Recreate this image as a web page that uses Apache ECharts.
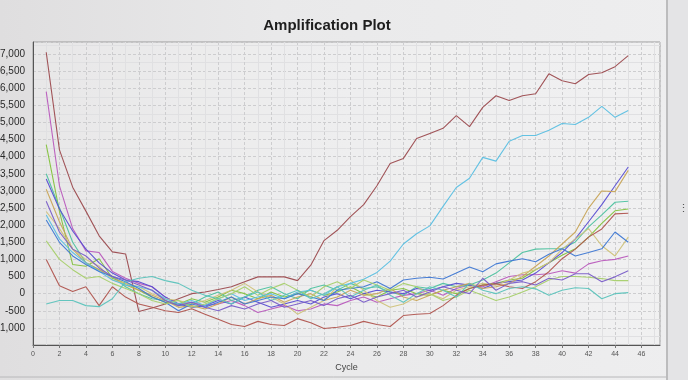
<!DOCTYPE html>
<html>
<head>
<meta charset="utf-8">
<script src="https://cdn.jsdelivr.net/npm/echarts@6/dist/echarts.min.js"></script>
<style>
html,body{margin:0;padding:0;width:688px;height:380px;overflow:hidden;
background:linear-gradient(to right,#dfdedf 0%,#e9e9ea 40%,#eeeeef 100%);}
#c{width:688px;height:380px;}
</style>
</head>
<body>
<div id="c"></div>
<script>
var title = 'Amplification Plot';
var xName = 'Cycle';
var cycles = [];
for (var i = 1; i <= 45; i++) cycles.push(i);

var sBrown = [7050,4200,3110,2410,1690,1220,1160,-520,-420,-300,-150,0,50,120,200,350,490,490,490,380,830,1550,1850,2250,2600,3150,3800,3950,4530,4680,4830,5200,4880,5440,5780,5640,5780,5840,6420,6220,6130,6400,6450,6630,6950];
var sMagenta = [5900,3150,1900,1250,1200,650,450,300,200,-100,-300,-250,-350,-300,-200,-350,-550,-450,-350,-500,-450,-300,-350,-200,-100,-250,-150,-50,0,100,-50,150,250,200,350,500,550,550,580,670,600,870,960,1000,1100];
var sLime = [4350,2400,850,800,1020,450,300,100,-100,-250,-300,-150,-250,-100,100,0,-150,50,-100,0,100,-50,50,200,0,-100,100,150,0,-50,100,0,150,250,300,400,450,700,900,1120,1310,1650,2050,2420,2470];
var sTealGreen = [3500,2500,1500,900,700,500,200,0,-150,-200,-350,-300,-100,50,-200,-100,100,200,0,-150,150,250,100,300,150,200,50,-50,200,150,300,200,250,400,600,900,1200,1300,1310,1310,1510,1950,2300,2670,2700];
var sPurpleBlue = [3350,2470,1830,1300,900,600,400,350,200,-100,-300,-400,-350,-200,-300,-100,-250,-400,-300,-200,-300,-100,0,-150,0,100,50,0,150,100,200,300,250,150,300,350,400,600,900,1200,1600,2100,2600,3150,3700];
var sTan = [3050,2100,1300,900,700,500,250,100,-50,-200,-400,-350,-450,-300,-100,-300,-150,-50,-250,-100,0,-200,-100,100,-50,0,150,-100,-200,-50,100,200,300,150,200,300,500,800,1100,1450,1800,2500,3000,2980,3600];
var sKhaki = [2400,1900,1300,1000,800,400,300,200,0,-150,-200,-300,-200,-50,100,300,50,-100,-300,-600,-400,-200,200,400,100,-200,-400,-300,-100,0,-150,100,200,300,250,400,600,700,900,1300,1600,1900,1400,1100,1650];
var sCyan = [2300,1600,1200,900,650,400,250,200,100,-150,-300,-200,-350,-150,0,-200,-100,0,-150,50,100,-50,200,300,420,620,950,1450,1750,1980,2550,3100,3370,3980,3870,4450,4620,4620,4770,4970,4940,5150,5470,5150,5350];
var sBlue = [2150,1500,1100,850,650,500,350,150,-100,-250,-500,-300,-400,-250,-100,-300,-200,-100,-150,0,-100,-200,100,150,200,350,150,400,450,480,430,600,780,640,870,950,1020,930,1150,1310,1100,1200,1310,1800,1500];
var sLightGreen = [1540,1000,700,450,500,300,150,0,-200,-300,-200,-400,-300,-150,0,200,-50,150,300,100,-100,200,350,150,400,250,100,300,200,0,-200,-100,100,-50,-200,-100,50,200,400,500,500,480,440,380,380];
var sLowBrown = [1000,230,60,200,-350,200,-100,-300,-400,-500,-550,-440,-600,-750,-900,-960,-810,-900,-930,-730,-850,-1020,-980,-930,-810,-900,-960,-640,-600,-580,-350,-50,150,250,290,200,150,350,640,1020,1300,1650,1890,2330,2350];
var sTeal = [-300,-200,-200,-350,-380,-150,350,450,500,380,300,100,-50,-150,-300,-100,50,-200,-50,100,-150,0,200,-100,100,250,-50,-250,0,200,100,-100,300,100,0,150,200,140,-50,100,170,150,-150,0,30];
var sPurple = [2700,1800,1300,1100,750,500,400,250,100,-200,-350,-250,-400,-500,-350,-450,-300,-200,-400,-300,-200,-350,-150,-50,-250,-100,0,100,-100,50,200,100,0,450,100,300,350,250,450,400,580,580,350,490,670];

var seriesList = [
  ['Brown', sBrown, '#9c4b4f'],
  ['Magenta', sMagenta, '#b95bbd'],
  ['Lime', sLime, '#84c23e'],
  ['TealGreen', sTealGreen, '#4fc2a0'],
  ['PurpleBlue', sPurpleBlue, '#5a4ed2'],
  ['Tan', sTan, '#c8a55a'],
  ['Khaki', sKhaki, '#cfc27a'],
  ['Cyan', sCyan, '#5bbfe2'],
  ['Blue', sBlue, '#3f78d3'],
  ['LightGreen', sLightGreen, '#a6cf6c'],
  ['LowBrown', sLowBrown, '#b0554f'],
  ['Teal', sTeal, '#5cc3bc'],
  ['Purple', sPurple, '#7a5ec8']
];

var series = seriesList.map(function (s) {
  return {
    name: s[0], type: 'line', showSymbol: false, silent: true,
    lineStyle: { width: 1.1, color: s[2], opacity: 0.95 },
    itemStyle: { color: s[2] },
    data: cycles.map(function (c, i) { return [c, s[1][i]]; })
  };
});

var chart = echarts.init(document.getElementById('c'), null, { renderer: 'canvas' });
chart.setOption({
  animation: false,
  backgroundColor: 'transparent',
  title: {
    text: title, left: 322, top: 13, textAlign: 'center',
    textStyle: { fontFamily: 'Liberation Sans, Arial, sans-serif', fontSize: 15, fontWeight: 'bold', color: '#1e1e1e' }
  },
  grid: { left: 33, right: 28, top: 42, bottom: 35, containLabel: false, outerBoundsMode: 'none', show: true, borderColor: '#9a9a9a', borderWidth: 1, backgroundColor: 'rgba(245,245,246,0.35)' },
  xAxis: {
    type: 'value', min: 0, max: 47.4, interval: 2,
    name: xName, nameLocation: 'middle', nameGap: 16,
    nameTextStyle: { fontFamily: 'Liberation Sans, Arial, sans-serif', fontSize: 9, color: '#444' },
    axisLine: { show: true, onZero: false, lineStyle: { color: '#555', width: 1 } },
    axisTick: { show: true, length: 3, lineStyle: { color: '#777' } },
    axisLabel: { fontSize: 7, color: '#555', margin: 6, showMaxLabel: false, fontFamily: 'Liberation Sans, Arial, sans-serif' },
    splitLine: { show: true, lineStyle: { color: '#cdcdcf', width: 1, type: [3, 2] } },
    minorTick: { show: false, splitNumber: 2 },
    minorSplitLine: { show: true, lineStyle: { color: '#e0e0e2', width: 1 } }
  },
  yAxis: {
    type: 'value', min: -1500, max: 7350, interval: 500,
    axisLine: { show: true, onZero: false, lineStyle: { color: '#555', width: 1 } },
    axisTick: { show: false },
    axisLabel: {
      fontSize: 10, color: '#2a2a2a', margin: 8, showMinLabel: false, showMaxLabel: false,
      fontFamily: 'Liberation Sans, Arial, sans-serif',
      formatter: function (v) { return Number(v).toLocaleString('en-US'); }
    },
    splitLine: { show: true, lineStyle: { color: '#cdcdcf', width: 1, type: [3, 2] } },
    minorTick: { show: false, splitNumber: 2 },
    minorSplitLine: { show: true, lineStyle: { color: '#e0e0e2', width: 1 } }
  },
  graphic: [
    { type: 'line', shape: { x1: 667, y1: 0, x2: 667, y2: 380 }, style: { stroke: '#8a8a8c', lineWidth: 1 } },
    { type: 'rect', shape: { x: 668, y: 0, width: 20, height: 380 }, style: { fill: '#e4e4e6' } },
    { type: 'text', left: 678, top: 203, style: { text: '⋮', fill: '#555', fontSize: 11 } },
    { type: 'line', shape: { x1: 0, y1: 377, x2: 667, y2: 377 }, style: { stroke: '#b8b8ba', lineWidth: 1 } }
  ],
  series: series
});
</script>
</body>
</html>
